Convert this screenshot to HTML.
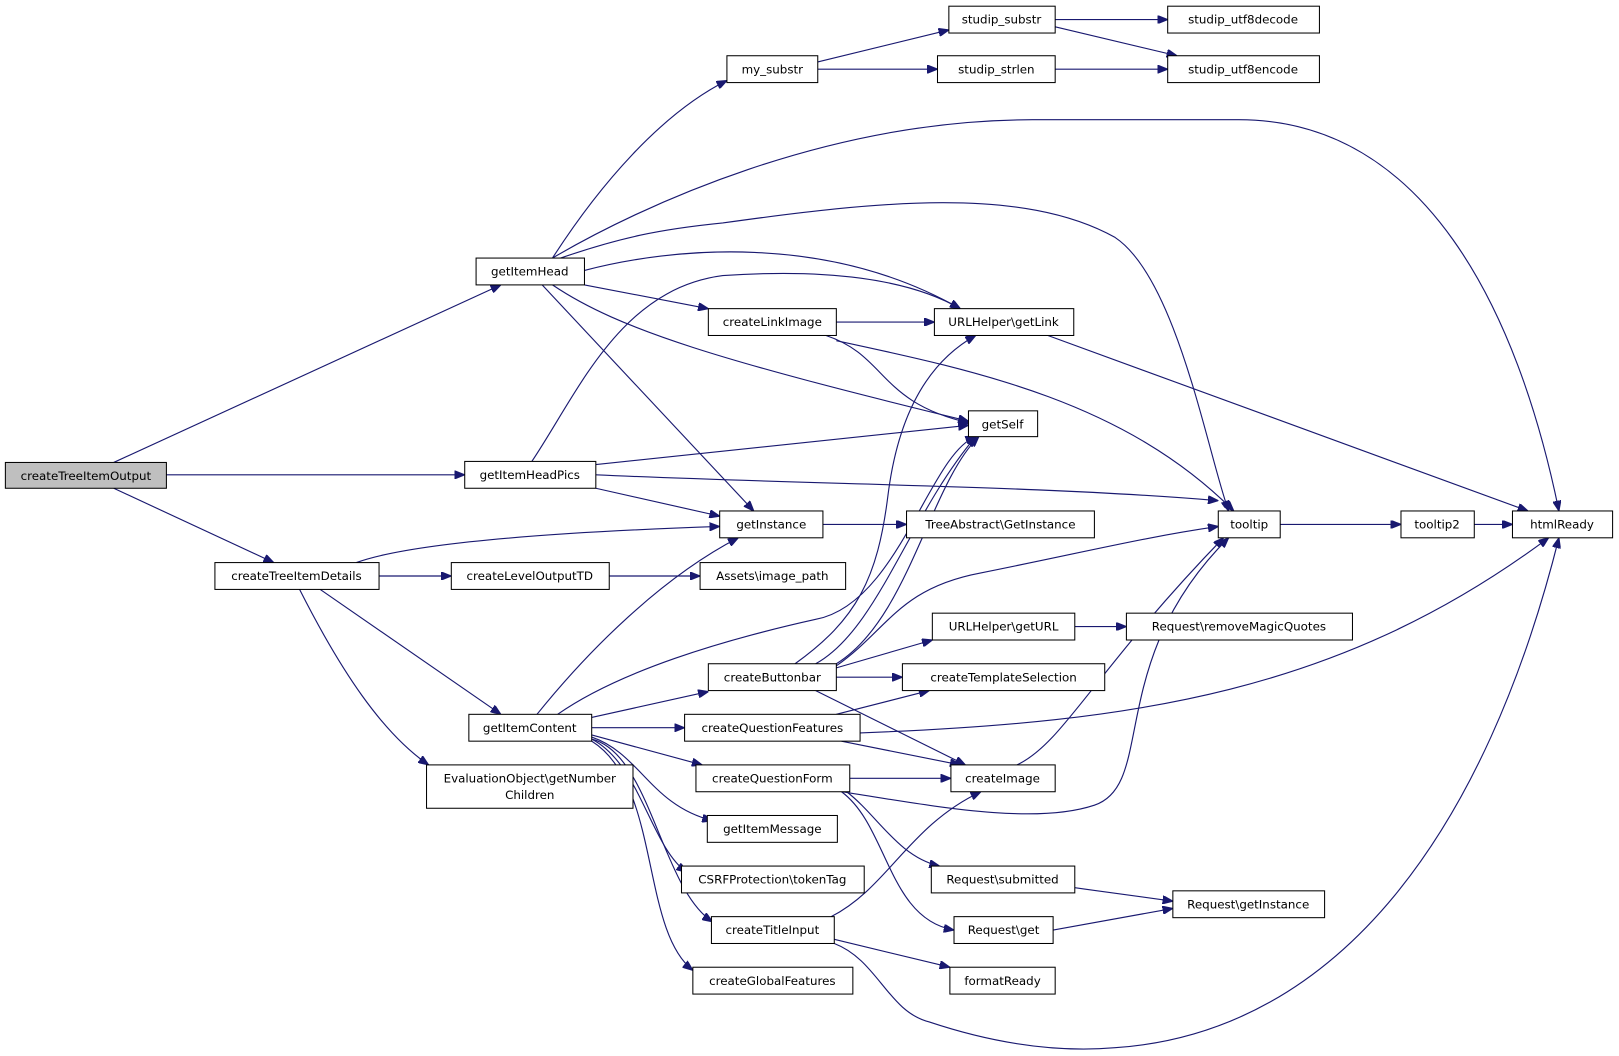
<!DOCTYPE html>
<html><head><meta charset="utf-8"><style>
html,body{margin:0;padding:0;background:#fff;}
svg{display:block}
text{font-family:"DejaVu Sans","Liberation Sans",sans-serif;font-size:11.5px;fill:#000;}
rect{fill:#fff;stroke:#000;stroke-width:1;}
path{fill:none;stroke:#191970;stroke-width:1.1;}
</style></head><body>
<svg width="1619" height="1056" viewBox="0 0 1568 1023" xmlns="http://www.w3.org/2000/svg">
<defs><marker id="a" markerWidth="10" markerHeight="8" refX="10" refY="4" orient="auto" markerUnits="userSpaceOnUse"><path d="M0,0 L10,4 L0,8 Z" style="fill:#191970;stroke:#191970"/></marker></defs>
<g marker-end="url(#a)">
<path d="M110,448 L485,276"/>
<path d="M161,460 L450,460"/>
<path d="M110,473 L265,545"/>
<path d="M535,250 C580,180 640,110 704,78"/>
<path d="M535,250 C620,200 800,116 1000,116 L1200,116 C1380,116 1470,300 1510,495"/>
<path d="M540,251 C600,230 640,222 700,216 C850,195 990,180 1080,230 C1140,270 1170,440 1190,495"/>
<path d="M566,262 C650,240 800,225 930,299"/>
<path d="M566,276 L686,299"/>
<path d="M535,276 C600,320 700,350 938,408"/>
<path d="M525,276 L730,495"/>
<path d="M515,447 C560,380 600,280 700,267 C800,260 880,270 930,299"/>
<path d="M577,450 L938,412"/>
<path d="M577,460 C800,470 1000,470 1180,485"/>
<path d="M577,473 L697,500"/>
<path d="M345,545 C400,525 550,515 697,510"/>
<path d="M367,558 L437,558"/>
<path d="M310,571 L485,692"/>
<path d="M290,571 C330,650 370,710 415,741"/>
<path d="M590,558 L678,558"/>
<path d="M792,60 L919,29"/>
<path d="M792,67 L908,67"/>
<path d="M1022,19 L1131,19"/>
<path d="M1022,26 L1140,54"/>
<path d="M1022,67 L1131,67"/>
<path d="M810,312 L905,312"/>
<path d="M800,325 C860,345 850,390 940,410"/>
<path d="M810,330 C950,360 1090,390 1195,495"/>
<path d="M1015,325 L1480,495"/>
<path d="M797,508 L878,508"/>
<path d="M1240,508 L1357,508"/>
<path d="M1428,508 L1465,508"/>
<path d="M520,692 C570,630 640,560 715,521"/>
<path d="M540,692 C600,650 700,620 790,600 C870,585 900,440 945,423"/>
<path d="M573,695 L686,670"/>
<path d="M573,705 L663,705"/>
<path d="M573,712 L680,741"/>
<path d="M573,714 C620,730 630,780 690,795"/>
<path d="M573,716 C620,740 630,820 665,845"/>
<path d="M573,716 C630,730 640,860 690,893"/>
<path d="M573,718 C640,760 620,900 671,940"/>
<path d="M770,643 C830,600 850,560 860,480 C870,400 900,350 945,325"/>
<path d="M790,643 C850,610 880,500 945,423"/>
<path d="M810,643 C880,600 900,470 948,423"/>
<path d="M810,645 C860,610 870,570 950,555 C1050,535 1110,520 1180,510"/>
<path d="M810,647 L903,620"/>
<path d="M810,656 L874,656"/>
<path d="M790,669 L935,741"/>
<path d="M810,692 L900,669"/>
<path d="M833,710 C1100,700 1300,670 1500,521"/>
<path d="M815,718 L930,741"/>
<path d="M823,754 L921,754"/>
<path d="M815,767 C900,780 1000,800 1060,780 C1120,760 1070,640 1190,521"/>
<path d="M820,767 C850,790 870,830 910,839"/>
<path d="M815,767 C860,800 860,890 924,901"/>
<path d="M985,741 C1030,720 1060,650 1185,521"/>
<path d="M1041,607 L1091,607"/>
<path d="M1041,860 L1136,873"/>
<path d="M1020,901 L1136,880"/>
<path d="M805,888 C860,860 880,800 950,767"/>
<path d="M808,910 L920,937"/>
<path d="M808,914 C850,930 860,980 900,990 C960,1010 1020,1020 1080,1015 C1300,1000 1440,800 1510,521"/>
</g>
<g>
<rect x="5" y="448" width="156" height="25" style="fill:#bfbfbf"/><text x="83" y="465" text-anchor="middle">createTreeItemOutput</text>
<rect x="461" y="250" width="105" height="26"/><text x="513" y="267" text-anchor="middle">getItemHead</text>
<rect x="450" y="447" width="127" height="26"/><text x="513" y="464" text-anchor="middle">getItemHeadPics</text>
<rect x="208" y="545" width="159" height="26"/><text x="287" y="562" text-anchor="middle">createTreeItemDetails</text>
<rect x="454" y="692" width="119" height="26"/><text x="513" y="709" text-anchor="middle">getItemContent</text>
<rect x="413" y="741" width="200" height="42"/><text x="513" y="758" text-anchor="middle">EvaluationObject\getNumber</text><text x="513" y="774" text-anchor="middle">Children</text>
<rect x="437" y="545" width="153" height="26"/><text x="513" y="562" text-anchor="middle">createLevelOutputTD</text>
<rect x="704" y="54" width="88" height="26"/><text x="748" y="71" text-anchor="middle">my_substr</text>
<rect x="919" y="6" width="103" height="26"/><text x="970" y="23" text-anchor="middle">studip_substr</text>
<rect x="908" y="54" width="114" height="26"/><text x="965" y="71" text-anchor="middle">studip_strlen</text>
<rect x="1131" y="6" width="147" height="26"/><text x="1204" y="23" text-anchor="middle">studip_utf8decode</text>
<rect x="1131" y="54" width="147" height="26"/><text x="1204" y="71" text-anchor="middle">studip_utf8encode</text>
<rect x="686" y="299" width="124" height="26"/><text x="748" y="316" text-anchor="middle">createLinkImage</text>
<rect x="905" y="299" width="135" height="26"/><text x="972" y="316" text-anchor="middle">URLHelper\getLink</text>
<rect x="938" y="398" width="67" height="25"/><text x="971" y="415" text-anchor="middle">getSelf</text>
<rect x="697" y="495" width="100" height="26"/><text x="747" y="512" text-anchor="middle">getInstance</text>
<rect x="878" y="495" width="182" height="26"/><text x="969" y="512" text-anchor="middle">TreeAbstract\GetInstance</text>
<rect x="678" y="545" width="141" height="26"/><text x="748" y="562" text-anchor="middle">Assets\image_path</text>
<rect x="1180" y="495" width="60" height="26"/><text x="1210" y="512" text-anchor="middle">tooltip</text>
<rect x="1357" y="495" width="71" height="26"/><text x="1392" y="512" text-anchor="middle">tooltip2</text>
<rect x="1465" y="495" width="97" height="26"/><text x="1513" y="512" text-anchor="middle">htmlReady</text>
<rect x="903" y="594" width="138" height="26"/><text x="972" y="611" text-anchor="middle">URLHelper\getURL</text>
<rect x="1091" y="594" width="219" height="26"/><text x="1200" y="611" text-anchor="middle">Request\removeMagicQuotes</text>
<rect x="686" y="643" width="124" height="26"/><text x="748" y="660" text-anchor="middle">createButtonbar</text>
<rect x="874" y="643" width="196" height="26"/><text x="972" y="660" text-anchor="middle">createTemplateSelection</text>
<rect x="663" y="692" width="170" height="26"/><text x="748" y="709" text-anchor="middle">createQuestionFeatures</text>
<rect x="921" y="741" width="101" height="26"/><text x="971" y="758" text-anchor="middle">createImage</text>
<rect x="674" y="741" width="149" height="26"/><text x="748" y="758" text-anchor="middle">createQuestionForm</text>
<rect x="685" y="790" width="126" height="26"/><text x="748" y="807" text-anchor="middle">getItemMessage</text>
<rect x="660" y="839" width="177" height="26"/><text x="748" y="856" text-anchor="middle">CSRFProtection\tokenTag</text>
<rect x="902" y="839" width="139" height="26"/><text x="971" y="856" text-anchor="middle">Request\submitted</text>
<rect x="1136" y="863" width="147" height="26"/><text x="1209" y="880" text-anchor="middle">Request\getInstance</text>
<rect x="924" y="888" width="96" height="26"/><text x="972" y="905" text-anchor="middle">Request\get</text>
<rect x="689" y="888" width="119" height="26"/><text x="748" y="905" text-anchor="middle">createTitleInput</text>
<rect x="920" y="937" width="102" height="26"/><text x="971" y="954" text-anchor="middle">formatReady</text>
<rect x="671" y="937" width="155" height="26"/><text x="748" y="954" text-anchor="middle">createGlobalFeatures</text>
</g>
</svg>
</body></html>
